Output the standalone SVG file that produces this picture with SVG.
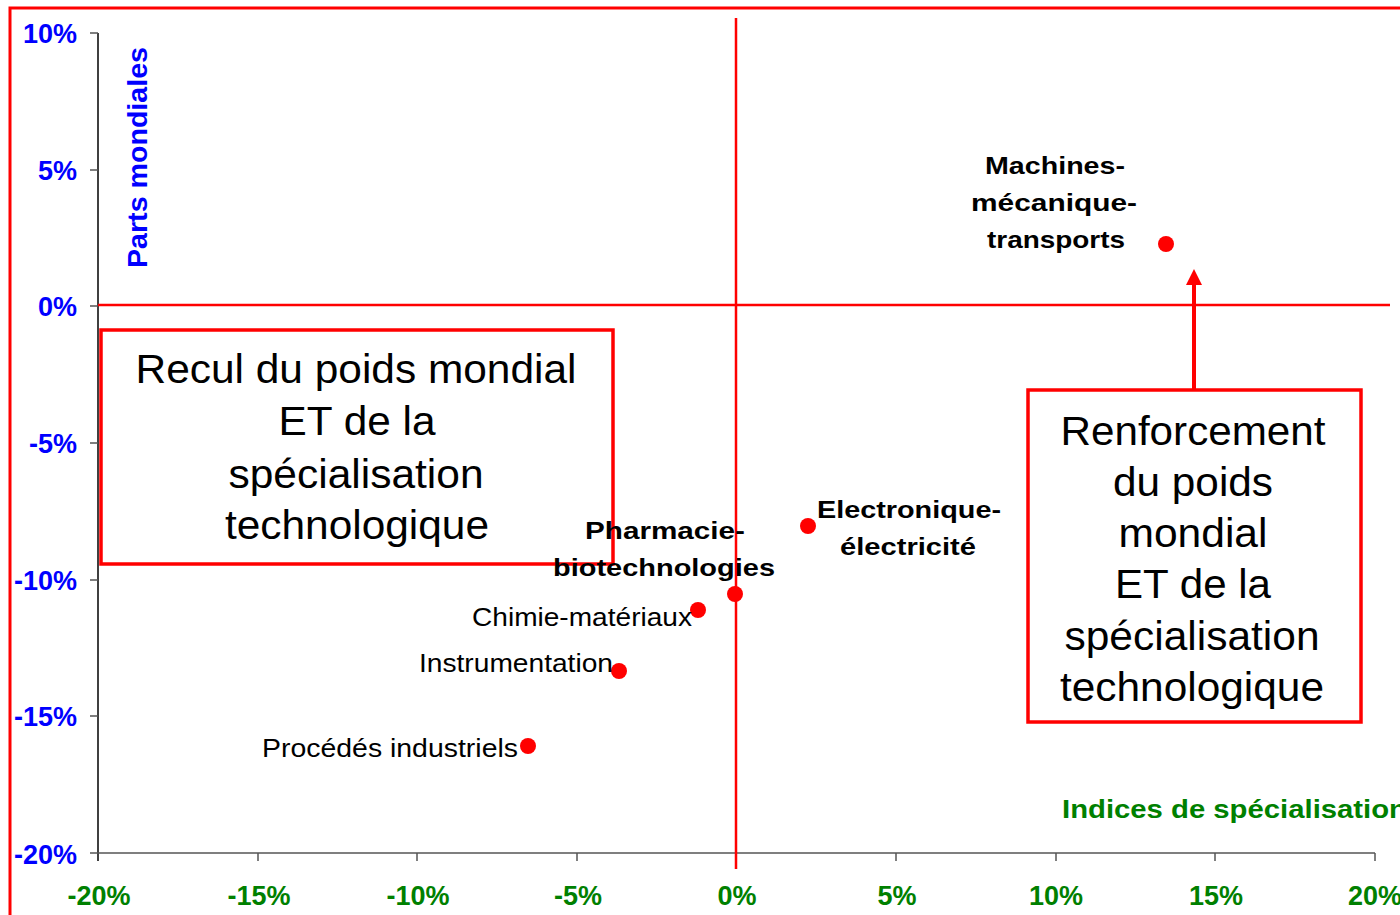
<svg xmlns="http://www.w3.org/2000/svg" width="1400" height="915" viewBox="0 0 1400 915">
  <style>
    .ylab { font-family: "Liberation Sans", Arial, sans-serif; font-weight: bold; font-size: 27px; fill: #0000ff; text-anchor: end; }
    .xlab { font-family: "Liberation Sans", Arial, sans-serif; font-weight: bold; font-size: 27px; fill: #008000; text-anchor: middle; }
    .axis { stroke: #000; stroke-width: 1.5; fill: none; }
    .tick { stroke: #555; stroke-width: 1.5; }
    .red { stroke: #ff0000; fill: none; }
    .pt { fill: #ff0000; }
    .bold { font-family: "Liberation Sans", Arial, sans-serif; font-weight: bold; font-size: 24px; fill: #000; }
    .norm { font-family: "Liberation Sans", Arial, sans-serif; font-size: 25px; fill: #000; }
    .box { font-family: "Liberation Sans", Arial, sans-serif; font-size: 41px; fill: #000; text-anchor: middle; }
  </style>
  <defs>
    <marker id="arrow" markerWidth="4" markerHeight="4" refX="0" refY="2" orient="auto" markerUnits="strokeWidth">
      <path d="M0,0 L4,2 L0,4 Z" fill="#ff0000"/>
    </marker>
  </defs>
  <rect width="1400" height="915" fill="#fff"/>
  <!-- outer frame -->
  <rect x="10" y="8" width="1420" height="940" class="red" stroke-width="3"/>

  <!-- axes -->
  <g id="axes">
    <line x1="98" y1="33" x2="98" y2="861" class="axis"/>
    <line x1="90" y1="853" x2="1375" y2="853" class="tick"/>
    <g class="tick">
      <line x1="90" y1="33" x2="98" y2="33"/>
      <line x1="90" y1="170" x2="98" y2="170"/>
      <line x1="90" y1="306" x2="98" y2="306"/>
      <line x1="90" y1="443" x2="98" y2="443"/>
      <line x1="90" y1="580" x2="98" y2="580"/>
      <line x1="90" y1="716" x2="98" y2="716"/>
      <line x1="258" y1="853" x2="258" y2="861"/>
      <line x1="417" y1="853" x2="417" y2="861"/>
      <line x1="577" y1="853" x2="577" y2="861"/>
      <line x1="896" y1="853" x2="896" y2="861"/>
      <line x1="1056" y1="853" x2="1056" y2="861"/>
      <line x1="1215" y1="853" x2="1215" y2="861"/>
      <line x1="1375" y1="853" x2="1375" y2="861"/>
    </g>
    <text class="ylab" x="77" y="43">10%</text>
    <text class="ylab" x="77" y="180">5%</text>
    <text class="ylab" x="77" y="316">0%</text>
    <text class="ylab" x="77" y="453">-5%</text>
    <text class="ylab" x="77" y="590">-10%</text>
    <text class="ylab" x="77" y="726">-15%</text>
    <text class="ylab" x="77" y="864">-20%</text>
    <text class="xlab" x="99" y="905">-20%</text>
    <text class="xlab" x="259" y="905">-15%</text>
    <text class="xlab" x="418" y="905">-10%</text>
    <text class="xlab" x="578" y="905">-5%</text>
    <text class="xlab" x="737" y="905">0%</text>
    <text class="xlab" x="897" y="905">5%</text>
    <text class="xlab" x="1056" y="905">10%</text>
    <text class="xlab" x="1216" y="905">15%</text>
    <text class="xlab" x="1375" y="905">20%</text>
    <text x="1062" y="818" font-family="Liberation Sans, Arial, sans-serif" font-weight="bold" font-size="25" fill="#008000" textLength="345" lengthAdjust="spacingAndGlyphs">Indices de spécialisation</text>
    <text transform="translate(147,268) rotate(-90)" font-family="Liberation Sans, Arial, sans-serif" font-weight="bold" font-size="27" fill="#0000ff" textLength="221" lengthAdjust="spacingAndGlyphs">Parts mondiales</text>
  </g>

  <!-- connectors: quadrant lines and arrow -->
  <g id="connectors">
    <line x1="98" y1="305" x2="1390" y2="305" class="red" stroke-width="2.5"/>
    <line x1="736" y1="18" x2="736" y2="869" class="red" stroke-width="2.5"/>
    <line x1="1194" y1="390" x2="1194" y2="285" class="red" stroke-width="4" marker-end="url(#arrow)"/>
  </g>

  <g id="box-recul">
    <rect x="101" y="330" width="512" height="234" class="red" stroke-width="3.5"/>
    <text class="box" x="356" y="383" textLength="441" lengthAdjust="spacingAndGlyphs">Recul du poids mondial</text>
    <text class="box" x="357" y="435" textLength="157" lengthAdjust="spacingAndGlyphs">ET de la</text>
    <text class="box" x="356" y="488" textLength="255" lengthAdjust="spacingAndGlyphs">spécialisation</text>
    <text class="box" x="357" y="539" textLength="264" lengthAdjust="spacingAndGlyphs">technologique</text>
  </g>

  <g id="box-renforcement">
    <rect x="1028" y="390" width="333" height="332" class="red" stroke-width="3.5"/>
    <text class="box" x="1193" y="445" textLength="265" lengthAdjust="spacingAndGlyphs">Renforcement</text>
    <text class="box" x="1193" y="496" textLength="160" lengthAdjust="spacingAndGlyphs">du poids</text>
    <text class="box" x="1193" y="547" textLength="149" lengthAdjust="spacingAndGlyphs">mondial</text>
    <text class="box" x="1193" y="598" textLength="156" lengthAdjust="spacingAndGlyphs">ET de la</text>
    <text class="box" x="1192" y="650" textLength="255" lengthAdjust="spacingAndGlyphs">spécialisation</text>
    <text class="box" x="1192" y="701" textLength="264" lengthAdjust="spacingAndGlyphs">technologique</text>
  </g>

  <g id="machines">
    <circle class="pt" cx="1166" cy="244" r="8"/>
    <text class="bold" x="985" y="174" textLength="140" lengthAdjust="spacingAndGlyphs">Machines-</text>
    <text class="bold" x="971" y="211" textLength="166" lengthAdjust="spacingAndGlyphs">mécanique-</text>
    <text class="bold" x="987" y="248" textLength="138" lengthAdjust="spacingAndGlyphs">transports</text>
  </g>

  <g id="electronique">
    <circle class="pt" cx="808" cy="526" r="8"/>
    <text class="bold" x="817" y="518" textLength="184" lengthAdjust="spacingAndGlyphs">Electronique-</text>
    <text class="bold" x="840" y="555" textLength="136" lengthAdjust="spacingAndGlyphs">électricité</text>
  </g>

  <g id="pharmacie">
    <circle class="pt" cx="735" cy="594" r="8"/>
    <text class="bold" x="585" y="539" textLength="160" lengthAdjust="spacingAndGlyphs">Pharmacie-</text>
    <text class="bold" x="553" y="576" textLength="222" lengthAdjust="spacingAndGlyphs">biotechnologies</text>
  </g>

  <g id="chimie">
    <circle class="pt" cx="698" cy="610" r="8"/>
    <text class="norm" x="472" y="626" textLength="220" lengthAdjust="spacingAndGlyphs">Chimie-matériaux</text>
  </g>

  <g id="instrumentation">
    <circle class="pt" cx="619" cy="671" r="8"/>
    <text class="norm" x="419" y="672" textLength="194" lengthAdjust="spacingAndGlyphs">Instrumentation</text>
  </g>

  <g id="procedes">
    <circle class="pt" cx="528" cy="746" r="8"/>
    <text class="norm" x="262" y="757" textLength="256" lengthAdjust="spacingAndGlyphs">Procédés industriels</text>
  </g>
</svg>
